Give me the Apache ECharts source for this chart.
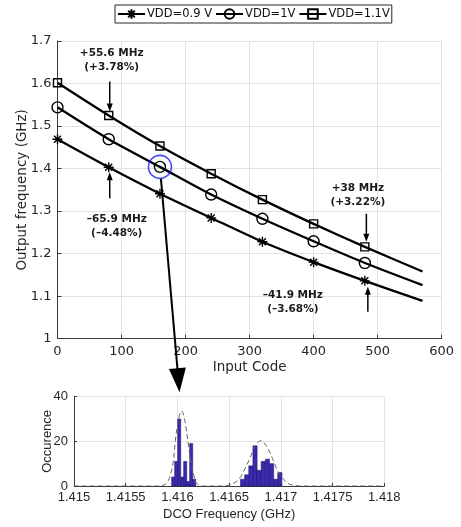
<!DOCTYPE html>
<html><head><meta charset="utf-8">
<script src="https://cdn.jsdelivr.net/npm/echarts@6/dist/echarts.min.js"></script>
<style>html,body{margin:0;padding:0;background:#fff}#c{width:461px;height:527px}</style>
</head><body><div id="c"></div>
<script>
// ---- main chart data ----
const codes = [0, 80, 160, 240, 320, 400, 480, 570];
const vdd09 = [1.469, 1.403, 1.341, 1.284, 1.228, 1.180, 1.136, 1.089];
const vdd10 = [1.544, 1.469, 1.404, 1.339, 1.282, 1.229, 1.178, 1.126];
const vdd11 = [1.602, 1.525, 1.453, 1.388, 1.327, 1.270, 1.216, 1.158];
const seriesNames = ['VDD=0.9 V', 'VDD=1V', 'VDD=1.1V'];
const annoTop1 = ['+55.6 MHz', '(+3.78%)'];
const annoBot1 = ['\u201365.9 MHz', '(\u20134.48%)'];
const annoTop2 = ['+38 MHz', '(+3.22%)'];
const annoBot2 = ['\u201341.9 MHz', '(\u20133.68%)'];
// ---- histogram data ----
const binCenters1 = [1.415959, 1.415988, 1.416017, 1.416046, 1.416075, 1.416104, 1.416133, 1.416162];
const binCounts1 = [4, 11, 30, 4, 11, 2, 19, 3];
const binCenters2 = [1.41663, 1.41667, 1.41671, 1.41675, 1.41679, 1.41683, 1.41687, 1.41691, 1.41695, 1.41699];
const binCounts2 = [3, 5, 9, 18, 7, 11, 12, 10, 3, 6];
const fitFreq = [1.415, 1.4158, 1.41587, 1.4159, 1.41593, 1.41596, 1.41598, 1.41601, 1.41604, 1.41607, 1.4161, 1.41613, 1.41616, 1.41618, 1.41621, 1.41625,
  1.4164, 1.41648, 1.41653, 1.41659, 1.41664, 1.4167, 1.41675, 1.41681, 1.41686, 1.41692, 1.41697, 1.41703, 1.41708, 1.41714, 1.4172, 1.418];
const fitCount = [0, 0, 0.4, 1.5, 4.6, 10.9, 20.4, 29.7, 33.7, 29.7, 20.4, 10.9, 4.6, 1.5, 0.4, 0,
  0, 0.2, 0.9, 2.8, 6.6, 12.3, 18, 20.3, 18, 12.3, 6.6, 2.8, 0.9, 0.2, 0, 0];

const MF = 'DejaVu Sans';
const HF = 'Liberation Sans';
const TXT = '#262626';
const AX = '#3a3a3a';
const GRIDC = '#e2e2e2';
const STAR = 'path://M0,-10L0,10M-10,0L10,0M-7,-7L7,7M-7,7L7,-7';

function lineData(vals) {
  return codes.map((c, i) => i === codes.length - 1 ? { value: [c, vals[i]], symbol: 'none' } : [c, vals[i]]);
}
function mkLine(name, vals, symbol, size) {
  return {
    name, type: 'line', xAxisIndex: 0, yAxisIndex: 0, data: lineData(vals),
    smooth: 0.25, symbol, symbolSize: size, showAllSymbol: true,
    lineStyle: { color: '#000', width: 2.3 },
    itemStyle: { color: 'rgba(0,0,0,0)', borderColor: '#000', borderWidth: 1.4 },
    emphasis: { disabled: true }, z: 3
  };
}
function binData(centers, counts) {
  const w = centers[1] - centers[0];
  return centers.map((c, i) => [c, counts[i], w]);
}
function renderBin(params, api) {
  const c = api.value(0), h = api.value(1), w = api.value(2);
  const p0 = api.coord([c - w / 2, 0]);
  const p1 = api.coord([c + w / 2, h]);
  return { type: 'rect', shape: { x: p0[0], y: p1[1], width: p1[0] - p0[0], height: p0[1] - p1[1] },
    style: { fill: '#3a2aae', stroke: '#1c1470', lineWidth: 0.6 } };
}

const chart = echarts.init(document.getElementById('c'), null, { renderer: 'canvas' });
const option = {
  animation: false,
  backgroundColor: '#fff',
  textStyle: { fontFamily: MF },
  legend: {
    data: seriesNames, top: 5, left: 115,
    borderColor: '#262626', borderWidth: 1, padding: [3, 2, 3, 2],
    itemWidth: 27, itemHeight: 12, itemGap: 3,
    textStyle: { fontFamily: MF, fontSize: 11.5, color: '#111', padding: [0, 0, 0, -3] }
  },
  grid: [
    { left: 57.5, right: 19.3, top: 41, height: 297.7 },
    { left: 74, right: 76.7, top: 396.7, height: 89.3 }
  ],
  xAxis: [
    { gridIndex: 0, type: 'value', min: 0, max: 600, interval: 100,
      name: 'Input Code', nameLocation: 'middle', nameGap: 22, nameMoveOverlap: false,
      nameTextStyle: { fontFamily: MF, fontSize: 13.5, color: TXT },
      axisLine: { lineStyle: { color: AX, width: 1 } },
      axisTick: { inside: true, length: 4, lineStyle: { color: AX } },
      axisLabel: { fontFamily: MF, fontSize: 13, color: TXT, margin: 6 },
      splitLine: { show: true, lineStyle: { color: GRIDC, width: 1 } } },
    { gridIndex: 1, type: 'value', min: 1.415, max: 1.418, interval: 0.0005,
      name: 'DCO Frequency (GHz)', nameLocation: 'middle', nameGap: 22, nameMoveOverlap: false,
      nameTextStyle: { fontFamily: HF, fontSize: 13, color: TXT },
      axisLine: { lineStyle: { color: AX, width: 1 } },
      axisTick: { inside: true, length: 3, lineStyle: { color: AX } },
      axisLabel: { fontFamily: HF, fontSize: 13, color: TXT, margin: 5,
        formatter: v => String(+v.toFixed(4)) },
      splitLine: { show: true, lineStyle: { color: GRIDC, width: 1 } } }
  ],
  yAxis: [
    { gridIndex: 0, type: 'value', min: 1, max: 1.7, interval: 0.1,
      name: 'Output frequency (GHz)', nameLocation: 'middle', nameGap: 28, nameMoveOverlap: false,
      nameTextStyle: { fontFamily: MF, fontSize: 13.5, color: TXT },
      axisLine: { show: true, lineStyle: { color: AX, width: 1 } },
      axisTick: { show: true, inside: true, length: 4, lineStyle: { color: AX } },
      axisLabel: { fontFamily: MF, fontSize: 13, color: TXT, margin: 6 },
      splitLine: { show: true, lineStyle: { color: GRIDC, width: 1 } } },
    { gridIndex: 1, type: 'value', min: 0, max: 40, interval: 20,
      name: 'Occurence', nameLocation: 'middle', nameGap: 20, nameMoveOverlap: false,
      nameTextStyle: { fontFamily: HF, fontSize: 13, color: TXT },
      axisLine: { show: true, lineStyle: { color: AX, width: 1 } },
      axisTick: { show: true, inside: true, length: 3, lineStyle: { color: AX } },
      axisLabel: { fontFamily: HF, fontSize: 13, color: TXT, margin: 6 },
      splitLine: { show: true, lineStyle: { color: GRIDC, width: 1 } } }
  ],
  series: [
    mkLine(seriesNames[0], vdd09, STAR, 10),
    mkLine(seriesNames[1], vdd10, 'circle', 11),
    mkLine(seriesNames[2], vdd11, 'rect', 8),
    { type: 'scatter', xAxisIndex: 0, yAxisIndex: 0, data: [[codes[2], vdd10[2]]],
      symbol: 'circle', symbolSize: 23, silent: true, z: 5,
      itemStyle: { color: 'rgba(0,0,0,0)', borderColor: '#1a1aff', borderWidth: 1.6 } },
    { type: 'custom', xAxisIndex: 1, yAxisIndex: 1, data: binData(binCenters1, binCounts1),
      renderItem: renderBin, encode: { x: 0, y: 1 }, silent: true, z: 2 },
    { type: 'custom', xAxisIndex: 1, yAxisIndex: 1, data: binData(binCenters2, binCounts2),
      renderItem: renderBin, encode: { x: 0, y: 1 }, silent: true, z: 2 },
    { type: 'line', xAxisIndex: 1, yAxisIndex: 1, data: fitFreq.map((f, i) => [f, fitCount[i]]),
      symbol: 'none', smooth: 0.35, silent: true, z: 3,
      lineStyle: { color: '#666', width: 1, type: [5, 3] } }
  ]
};
chart.setOption(option);

// ---- annotations (positions derived from the axes) ----
const px = (x, y) => chart.convertToPixel({ gridIndex: 0 }, [x, y]);
const hx = (x, y) => chart.convertToPixel({ gridIndex: 1 }, [x, y]);
const g = [];
function text(lines, cx, cy) {
  lines.forEach((t, i) => g.push({ type: 'text', x: cx, y: cy + i * 14, z: 10,
    style: { text: t, fontFamily: MF, fontWeight: 'bold', fontSize: 10.5, fill: '#1a1a1a', align: 'center', verticalAlign: 'middle' } }));
}
function arrow(x0, y0, x1, y1, headLen, headW, lw) {
  const dx = x1 - x0, dy = y1 - y0, L = Math.hypot(dx, dy), ux = dx / L, uy = dy / L;
  const bx = x1 - ux * headLen, by = y1 - uy * headLen;
  g.push({ type: 'line', z: 10, shape: { x1: x0, y1: y0, x2: bx + ux, y2: by + uy }, style: { stroke: '#000', lineWidth: lw } });
  g.push({ type: 'polygon', z: 10, shape: { points: [[x1, y1], [bx - uy * headW / 2, by + ux * headW / 2], [bx + uy * headW / 2, by - ux * headW / 2]] }, style: { fill: '#000' } });
}
const s80 = px(codes[1], vdd11[1]);
text(annoTop1, s80[0] + 3, s80[1] - 62);
arrow(s80[0] + 1, s80[1] - 34, s80[0] + 1, s80[1] - 4, 8, 6, 1.5);
const t80 = px(codes[1], vdd09[1]);
text(annoBot1, t80[0] + 8, t80[1] + 52);
arrow(t80[0] + 1, t80[1] + 31, t80[0] + 1, t80[1] + 5, 8, 6, 1.5);
const s480 = px(codes[6], vdd11[6]);
text(annoTop2, s480[0] - 7, s480[1] - 59);
arrow(s480[0] + 1.5, s480[1] - 33, s480[0] + 1.5, s480[1] - 5, 8, 6, 1.5);
const t480 = px(codes[6], vdd09[6]);
text(annoBot2, t480[0] - 72, t480[1] + 14);
arrow(t480[0] + 3, t480[1] + 31, t480[0] + 3, t480[1] + 6, 8, 6, 1.5);
const c160 = px(codes[2], vdd10[2]);
const tip = hx(1.41602, 42);
arrow(c160[0] + 1, c160[1] + 12, tip[0], tip[1], 24, 17, 2);
chart.setOption({ graphic: g });
</script></body></html>
